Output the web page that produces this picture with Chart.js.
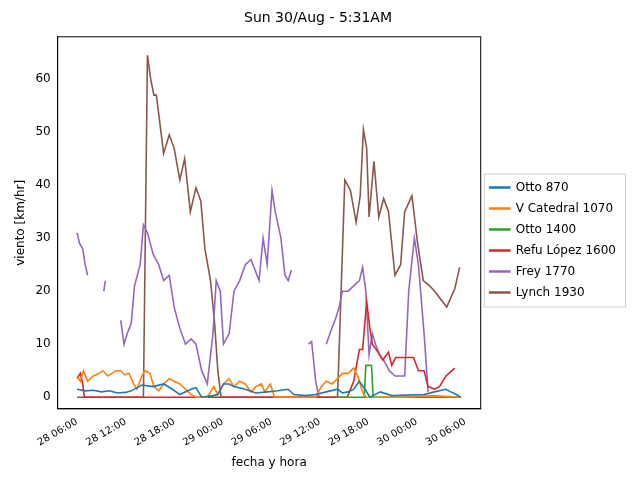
<!DOCTYPE html>
<html><head><meta charset="utf-8">
<script src="https://cdn.jsdelivr.net/npm/chart.js@4"></script>
<style>body{margin:0;background:#fff}</style>
</head><body><canvas id="c" width="640" height="480"></canvas>
<script>
// hours counted from 28/Aug 06:00
var tickLabels = ["28 06:00","28 12:00","28 18:00","29 00:00","29 06:00","29 12:00","29 18:00","30 00:00","30 06:00"];

var ottoH = [0,1,2,3,4,5,6,6.7,8,9.4,10.7,11.8,12.7,14.1,14.7,15.4,16.8,17.4,18.1,18.8,19.4,20.8,22.1,23.5,24.8,26.1,26.8,28.2,29.5,30.8,32.2,32.8,33.5,34.2,34.9,35.6,36.2,37.5,38.9,42.9,44.2,45.6,46.2,46.9,47.4];
var ottoV = [1.5,1.2,1.3,1,1.2,0.8,0.9,1.2,2.3,2,2.5,1.5,0.5,1.5,1.8,0,0.3,0.5,2.5,2.5,2,1.5,0.8,1,1.2,1.5,0.5,0.3,0.5,1,1.5,0.8,1,1.5,3,1.5,0,1,0.3,0.5,1,1.5,1,0.5,0];

var catH = [0,0.4,0.8,1.3,2,2.7,3.2,3.8,4.3,4.8,5.4,5.9,6.4,7,7.4,8,8.4,9,9.5,10.1,10.7,11.4,12,12.7,13.4,14.1,14.7,16.1,16.9,17.4,18.1,18.8,19.4,20.1,20.8,21.5,22.1,22.8,23.2,23.9,24.4,29.5,30.2,30.8,31.5,32.2,32.8,33.5,34.2,34.7,35.3,35.7,40,44,47.4];
var catV = [4,3,5,3,4,4.5,5,4,4.5,5,5,4.2,4.5,2.5,1.5,4,5,4.5,2,1.2,2.5,3.5,3,2.5,1.5,0.5,0,0,2,0.5,2.5,3.5,2,3,2.5,1,2,2.5,1,2.5,0,0,2,3,2.5,3.5,4.5,4.5,5.5,4,1,0,0,0.3,0];

var otto14H = [32,35.5,35.7,36.4,36.6,47.5];
var otto14V = [0,0,6,6,0,0];

var refuH = [0,0.4,0.7,0.9,1.2,33.4,34.2,34.9,35.3,35.8,36.2,36.5,37.2,37.8,38.5,38.9,39.4,41.6,42.2,42.9,43.4,44.2,44.8,45.6,46.7];
var refuV = [3.5,4.5,2.5,0,0,0,3,9,9,18,13,10,8.5,7,8.5,6,7.5,7.5,5,5,2,1.5,2,4,5.5];

var freyH = [0,0.3,0.7,1,1.3,1.5,3.3,3.5,3.7,5.4,5.8,6.2,6.7,7.1,7.8,8.2,8.7,9.4,10.1,10.7,11.4,12,12.7,13.4,14.1,14.7,15.4,16.1,16.8,17.2,17.7,18.1,18.8,19.4,20.1,20.8,21.5,22,22.5,23,23.5,24.1,24.5,25.2,25.7,26.1,26.5,26.7,28.6,29,29.5,29.9,30.2,30.8,31.5,32,32.4,32.8,33.5,34.2,34.9,35.3,35.7,36.1,36.5,36.9,37.4,37.9,38.6,39.3,40.1,40.5,41,41.7,42.2,42.9,43.4];
var freyV = [31,29,28,25,23,null,20,22,null,14.5,10,12,14,21,25,32.5,31,27,25,22,23,17,13,10,11,10,5,2.5,12,22,20,10,12,20,22,25,26,24,22,30,25,39,35,30,23,22,24,null,10,10.5,3,0,null,10,13,15,17,20,20,21,22,24.5,20,8,12,10,8,7,5,4,4,4,20,30,25,12,1];

var lynchH = [0,8.2,8.7,9.1,9.5,9.8,10.7,11.4,12,12.7,13.3,14,14.7,15.3,15.8,16.5,17,17.4,17.8,32.2,33.1,33.8,34.5,35,35.4,35.8,36.1,36.7,37.3,37.9,38.5,39.3,40,40.5,41.4,42.1,42.8,43.6,44.2,45.7,46.7,47.3];
var lynchV = [0,0,64.5,60,57,57,46,49.5,47,41,45,35,39.5,37,28,22,14,5,0,0,41,39,33,38,50.5,47,34,44.5,34,37.5,35,23,25,35,38,29,22,21,20,17,20.5,24.5];

function pts(h, v) {
  return h.map(function (x, i) { return { x: x, y: v[i] }; });
}
function ds(label, color, h, v) {
  return { label: label, data: pts(h, v), borderColor: color, backgroundColor: color,
           borderWidth: 1.6, pointRadius: 0, tension: 0, spanGaps: false };
}

var frame = {
  id: "frame",
  afterDraw: function (chart) {
    var a = chart.chartArea, c = chart.ctx;
    c.save(); c.strokeStyle = "#000"; c.lineWidth = 1;
    c.strokeRect(a.left, a.top, a.right - a.left, a.bottom - a.top);
    var hb = chart.legend.legendHitBoxes;
    if (hb && hb.length) {
      var top = hb[0].top - 8, bot = hb[hb.length - 1].top + hb[0].height + 8;
      var left = hb[0].left - 6;
      c.strokeStyle = "#ccc";
      c.strokeRect(left + 0.5, top + 0.5, 625 - left, bot - top);
    }
    c.restore();
  }
};

new Chart(document.getElementById("c"), {
  type: "line",
  data: {
    datasets: [
      ds("Otto 870", "#1f77b4", ottoH, ottoV),
      ds("V Catedral 1070", "#ff7f0e", catH, catV),
      ds("Otto 1400", "#2ca02c", otto14H, otto14V),
      ds("Refu López 1600", "#d62728", refuH, refuV),
      ds("Frey 1770", "#9467bd", freyH, freyV),
      ds("Lynch 1930", "#8c564b", lynchH, lynchV)
    ]
  },
  plugins: [frame],
  options: {
    responsive: false, animation: false,
    layout: { padding: { left: 10, right: 14, top: 6, bottom: 6 } },
    plugins: {
      title: { display: true, text: "Sun 30/Aug - 5:31AM", color: "#000",
               font: { family: "DejaVu Sans", size: 14, weight: "normal" }, padding: { top: 4, bottom: 10 } },
      legend: { position: "right",
                labels: { boxWidth: 20, boxHeight: 1, color: "#000", padding: 9,
                          font: { family: "DejaVu Sans", size: 12 } } },
      tooltip: { enabled: false }
    },
    scales: {
      x: { type: "linear", min: -2.4, max: 49.9,
           grid: { display: false, drawTicks: true, tickLength: 4 },
           border: { color: "#000" },
           afterBuildTicks: function (s) {
             s.ticks = tickLabels.map(function (t, i) { return { value: i * 6 }; });
           },
           ticks: { color: "#000", autoSkip: false, minRotation: 30, maxRotation: 30,
                    font: { family: "DejaVu Sans", size: 10 },
                    callback: function (v) { return tickLabels[v / 6]; } },
           title: { display: true, text: "fecha y hora", color: "#000",
                    font: { family: "DejaVu Sans", size: 12 } } },
      y: { min: -2.2, max: 68,
           grid: { display: false, tickLength: 4 },
           border: { color: "#000" },
           afterBuildTicks: function (s) {
             s.ticks = [0, 10, 20, 30, 40, 50, 60].map(function (v) { return { value: v }; });
           },
           ticks: { color: "#000", font: { family: "DejaVu Sans", size: 12 } },
           title: { display: true, text: "viento [km/hr]", color: "#000",
                    font: { family: "DejaVu Sans", size: 12 } } }
    }
  }
});
</script></body></html>
